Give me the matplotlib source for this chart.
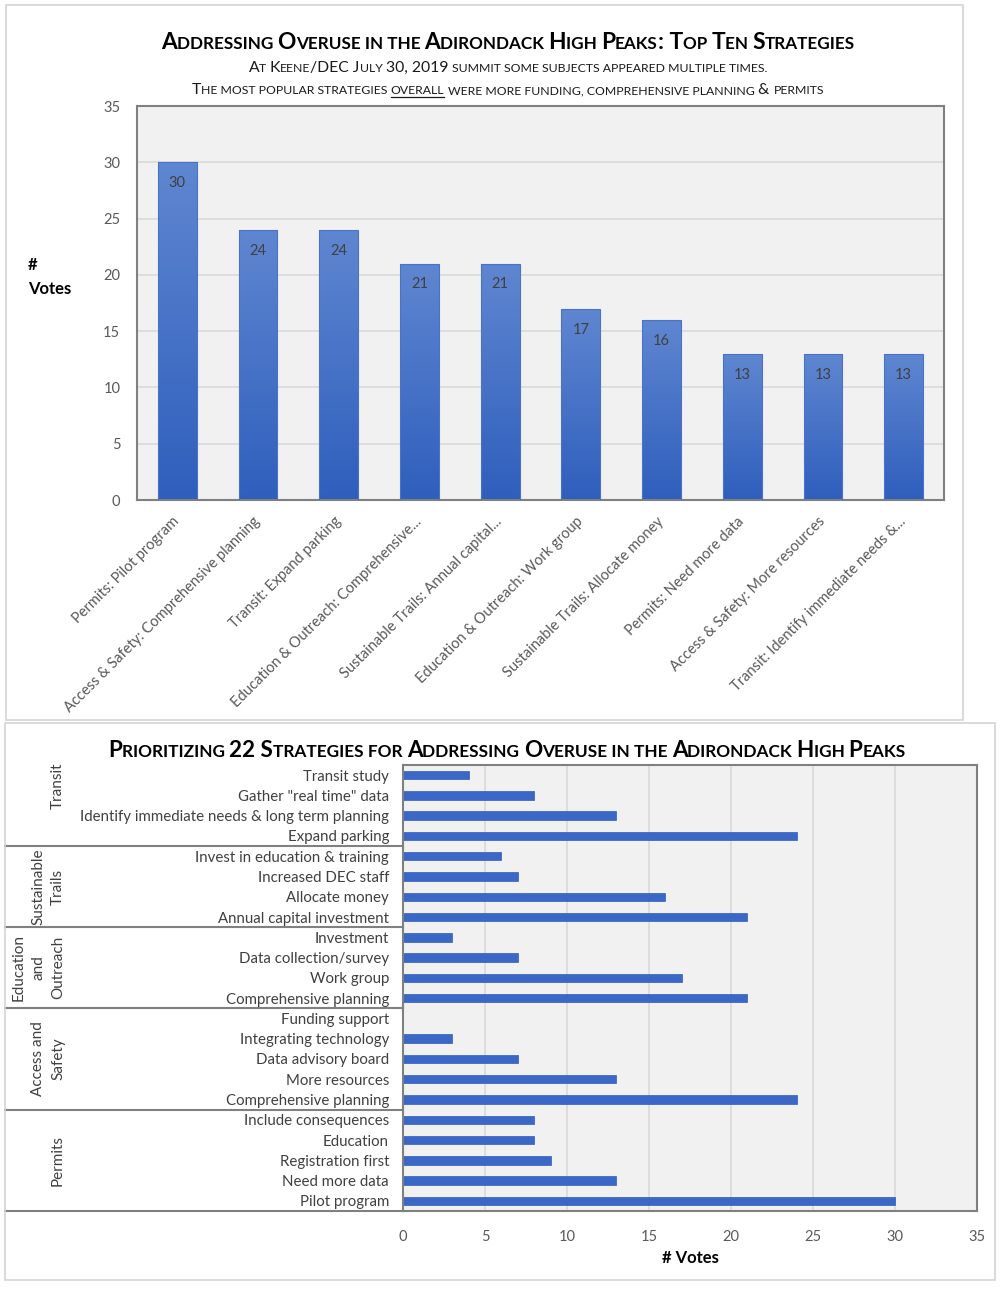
import matplotlib
matplotlib.use('Agg')
import numpy as np
import matplotlib.pyplot as plt
from matplotlib import transforms
from matplotlib.colors import LinearSegmentedColormap
from matplotlib.patches import Rectangle
from matplotlib.lines import Line2D

W, H = 1001, 1292
plt.rcParams['font.family'] = ['Lato', 'DejaVu Sans']

# top chart: top ten strategies
top_labels = ['Permits: Pilot program', 'Access & Safety: Comprehensive planning',
              'Transit: Expand parking', 'Education & Outreach: Comprehensive...',
              'Sustainable Trails: Annual capital...', 'Education & Outreach: Work group',
              'Sustainable Trails: Allocate money', 'Permits: Need more data',
              'Access & Safety: More resources', 'Transit: Identify immediate needs &...']
top_votes = [30, 24, 24, 21, 21, 17, 16, 13, 13, 13]

# bottom chart: all 22 strategies by group
groups = ['Transit', 'Sustainable\nTrails', 'Education\nand\nOutreach',
          'Access and\nSafety', 'Permits']
transit_items = ['Transit study', 'Gather "real time" data',
                 'Identify immediate needs & long term planning', 'Expand parking']
transit_votes = [4, 8, 13, 24]
trails_items = ['Invest in education & training', 'Increased DEC staff',
                'Allocate money', 'Annual capital investment']
trails_votes = [6, 7, 16, 21]
edu_items = ['Investment', 'Data collection/survey', 'Work group', 'Comprehensive planning']
edu_votes = [3, 7, 17, 21]
access_items = ['Funding support', 'Integrating technology', 'Data advisory board',
                'More resources', 'Comprehensive planning']
access_votes = [0, 3, 7, 13, 24]
permit_items = ['Include consequences', 'Education', 'Registration first',
                'Need more data', 'Pilot program']
permit_votes = [8, 8, 9, 13, 30]

group_items = [transit_items, trails_items, edu_items, access_items, permit_items]
group_votes = [transit_votes, trails_votes, edu_votes, access_votes, permit_votes]


def fx(px):
    return px / W


def fy(py):
    return 1 - py / H


fig = plt.figure(figsize=(W / 100, H / 100), dpi=100)
renderer = fig.canvas.get_renderer()

# panel frames
fig.patches.append(Rectangle((fx(6), fy(720)), fx(963) - fx(6), fy(5) - fy(720),
                             transform=fig.transFigure, fill=False, ec='#d4d4d4', lw=1.2))
fig.patches.append(Rectangle((fx(5), fy(1280)), fx(995) - fx(5), fy(723) - fy(1280),
                             transform=fig.transFigure, fill=False, ec='#d4d4d4', lw=1.2))

# small caps helper (Excel-style titles)
_bars = {}


def width_of(s, size, weight):
    key = (size, weight)
    if key not in _bars:
        t = fig.text(0, 0, '||', fontsize=size, fontweight=weight)
        _bars[key] = t.get_window_extent(renderer).width
        t.remove()
    t = fig.text(0, 0, '|' + s + '|', fontsize=size, fontweight=weight)
    w = t.get_window_extent(renderer).width
    t.remove()
    return w - _bars[key]


def small_caps(parts, xc, y, big, small, weight='normal', color='black'):
    pieces = []
    for text, ul in parts:
        run, low = '', None
        for ch in text:
            is_low = ch.islower()
            # spaces and light punctuation follow the current run
            if ch in ' .,' and low is not None:
                is_low = low
            if low is None or is_low == low:
                run += ch
                low = is_low
            else:
                pieces.append((run, low, ul))
                run, low = ch, is_low
        if run:
            pieces.append((run, low, ul))
    shown = [(r.upper() if lo else r, small if lo else big, ul) for r, lo, ul in pieces]
    widths = [width_of(s, sz, weight) for s, sz, ul in shown]
    x = xc - sum(widths) / 2
    for (s, sz, ul), w in zip(shown, widths):
        fig.text(fx(x), fy(y), s, fontsize=sz, fontweight=weight, color=color,
                 ha='left', va='baseline')
        if ul:
            fig.lines.append(Line2D([fx(x), fx(x + w)], [fy(y + 3), fy(y + 3)],
                                    transform=fig.transFigure, color=color, lw=0.9))
        x += w


# ---------------- top chart ----------------
ax1 = fig.add_axes([fx(137), fy(500), (944 - 137) / W, (500 - 106) / H])
ax1.set_facecolor('#f1f1f1')
x = np.arange(len(top_votes))
bars = ax1.bar(x, top_votes, width=0.48, color='none', zorder=2)
cmap = LinearSegmentedColormap.from_list('blu', ['#2f5fbd', '#5f86d0'])
grad = np.linspace(0, 1, 100).reshape(-1, 1)
for b in bars:
    bb = b.get_bbox()
    im = ax1.imshow(grad, extent=[bb.x0, bb.x1, bb.y0, bb.y1], origin='lower',
                    aspect='auto', cmap=cmap, zorder=2)
    im.set_clip_path(b)
    ax1.add_patch(Rectangle((bb.x0, bb.y0), bb.width, bb.height, fill=False,
                            ec='#4a72c8', lw=0.8, zorder=3))
for xi, v in zip(x, top_votes):
    ax1.annotate(str(v), (xi, v), xytext=(0, -10), textcoords='offset points',
                 ha='center', va='top', fontsize=10.5, color='#404040', zorder=4)
ax1.set_xlim(-0.5, len(top_votes) - 0.5)
ax1.set_ylim(0, 35)
ax1.set_yticks(range(0, 36, 5))
ax1.set_xticks(x)
ax1.set_xticklabels(top_labels, rotation=45, ha='right', va='center',
                    rotation_mode='anchor', fontsize=10.5, color='#595959')
ax1.tick_params(axis='y', length=0, pad=12, labelsize=10.5, labelcolor='#595959')
ax1.tick_params(axis='x', length=0, pad=14)
ax1.grid(axis='y', color='#d9d9d9', lw=1.2)
ax1.set_axisbelow(True)
for s in ax1.spines.values():
    s.set_color('#808080')
    s.set_linewidth(1.5)
fig.text(fx(28), fy(265), '#', fontsize=12, fontweight='bold', va='center')
fig.text(fx(28), fy(289), 'Votes', fontsize=12, fontweight='bold', va='center')

small_caps([('Addressing Overuse in the Adirondack High Peaks: Top Ten Strategies', False)],
           508, 49, 16.4, 12.3, weight='bold')
small_caps([('At Keene/DEC July 30, 2019 summit some subjects appeared multiple times.', False)],
           508, 72, 11.3, 8.8, color='#1a1a1a')
small_caps([('The most popular strategies ', False), ('overall', True),
            (' were more funding, comprehensive planning & permits', False)],
           508, 94, 11.3, 8.8, color='#1a1a1a')

# ---------------- bottom chart ----------------
ax2 = fig.add_axes([fx(403), fy(1211), (977 - 403) / W, (1211 - 765) / H])
ax2.set_facecolor('#f1f1f1')
items = [it for g in group_items for it in g]
votes = [v for g in group_votes for v in g]
y = np.arange(len(items))
ax2.barh(y, votes, height=0.42, color='#3b67c6', edgecolor='#2f5cbc', lw=0.5, zorder=2)
ax2.set_ylim(len(items) - 0.5, -0.5)
ax2.set_xlim(0, 35)
ax2.set_xticks(range(0, 36, 5))
ax2.set_yticks(y)
ax2.set_yticklabels(items, fontsize=10.8, color='#404040')
ax2.tick_params(axis='y', length=0, pad=10)
ax2.tick_params(axis='x', length=0, pad=14, labelsize=10.5, labelcolor='#595959')
ax2.grid(axis='x', color='#d9d9d9', lw=1.2)
ax2.set_axisbelow(True)
for s in ax2.spines.values():
    s.set_color('#808080')
    s.set_linewidth(1.5)
ax2.set_xlabel('# Votes', fontsize=12, fontweight='bold', labelpad=4)

trans = transforms.blended_transform_factory(fig.transFigure, ax2.transData)
ends = np.cumsum([len(g) for g in group_items])
starts = ends - np.array([len(g) for g in group_items])
for e in ends:
    ax2.add_line(Line2D([fx(5), fx(403)], [e - 0.5, e - 0.5], transform=trans,
                        color='#808080', lw=1.5, clip_on=False))
for i, (g, st, e) in enumerate(zip(groups, starts, ends)):
    mid = (st + e - 1) / 2
    if i == 0:
        mid = st + 0.5
    ax2.text(fx(65), mid, g, transform=trans, rotation=90, ha='right', va='center',
             multialignment='center', linespacing=1.5, fontsize=11, color='#404040')

small_caps([('Prioritizing 22 Strategies for Addressing Overuse in the Adirondack High Peaks', False)],
           507, 757, 16.2, 12.4, weight='bold')

fig.savefig('out.png', dpi=100, facecolor='white')
